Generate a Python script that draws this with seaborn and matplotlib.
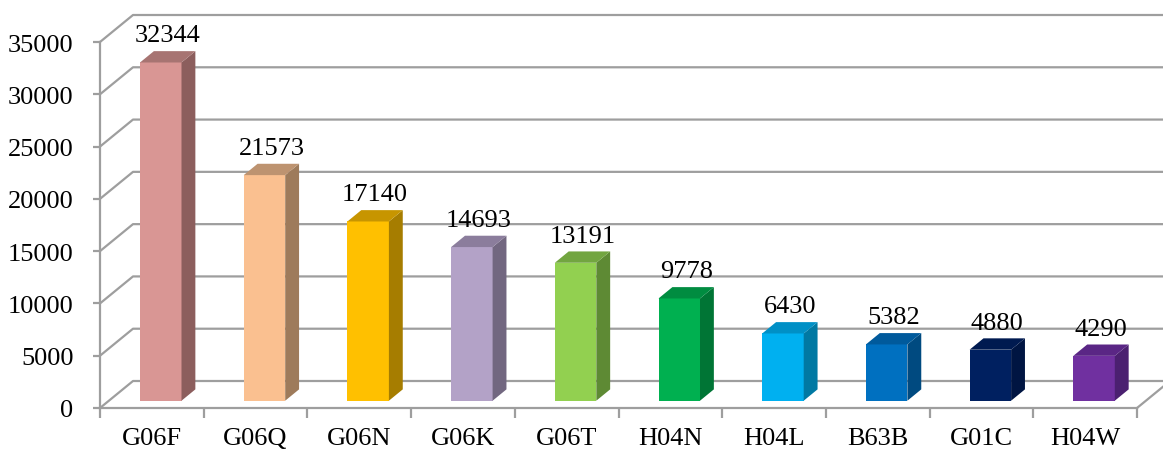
import numpy as np
import pandas as pd
import matplotlib
matplotlib.use("Agg")
import matplotlib.pyplot as plt
import seaborn as sns
from matplotlib.patches import Polygon

categories = ["G06F", "G06Q", "G06N", "G06K", "G06T", "H04N", "H04L", "B63B", "G01C", "H04W"]
values = [32344, 21573, 17140, 14693, 13191, 9778, 6430, 5382, 4880, 4290]
front_colors = ["#D99694", "#FAC090", "#FFC000", "#B3A2C7", "#92D050",
                "#00B050", "#00B0F0", "#0070C0", "#002060", "#7030A0"]
side_colors = ["#8C5E5D", "#9E7B5B", "#A67D00", "#726780", "#5E8A34",
               "#007535", "#0079A3", "#004A80", "#001542", "#4B2070"]
top_colors = ["#A77472", "#BD9370", "#C79500", "#8B7D9C", "#72A540",
              "#008C40", "#0090C6", "#005A9C", "#001A50", "#5A2685"]
yticks = [0, 5000, 10000, 15000, 20000, 25000, 30000, 35000]

sns.set_theme(style="white")
plt.rcParams["font.family"] = ["Liberation Serif", "DejaVu Serif"]

W, H = 1163, 452
fig = plt.figure(figsize=(W / 100, H / 100), dpi=100)
x0, x1, y0, y1 = 100, 1137, 409, 43
ax = fig.add_axes([x0 / W, 1 - y0 / H, (x1 - x0) / W, (y0 - y1) / H])

n = len(categories)
px_x = (x1 - x0) / n
px_y = (y0 - y1) / yticks[-1]
DX = 33 / px_x
DY = 27 / px_y
grid = "#9E9E9E"
FS = 19

df = pd.DataFrame({"cat": categories, "val": values})
sns.barplot(data=df, x="cat", y="val", hue="cat", palette=front_colors,
            width=0.4, legend=False, ax=ax, saturation=1, zorder=3)
ax.set_xlabel("")
ax.set_ylabel("")
ax.set_xlim(-0.5, n - 0.5)
ax.set_ylim(0, yticks[-1])

# back walls / gridlines
for v in yticks:
    ax.plot([-0.5, -0.5 + DX, n - 0.5 + DX], [v, v + DY, v + DY],
            color=grid, lw=1.6, clip_on=False, zorder=0, solid_capstyle="butt")
ax.plot([n - 0.5, n - 0.5 + DX], [0, DY], color=grid, lw=1.6, clip_on=False, zorder=0)

f_front = 0.27
depth = 0.42
ddx, ddy = depth * DX, depth * DY
patches = sorted(ax.patches, key=lambda p: p.get_x())
for i, p in enumerate(patches):
    p.set_x(p.get_x() + f_front * DX)
    p.set_y(p.get_y() + f_front * DY)
    p.set_edgecolor("none")
    l, b, w, h = p.get_x(), p.get_y(), p.get_width(), p.get_height()
    r, t = l + w, b + h
    side = Polygon([(r, b), (r + ddx, b + ddy), (r + ddx, t + ddy), (r, t)],
                   closed=True, facecolor=side_colors[i], edgecolor="none",
                   zorder=3, clip_on=False)
    top = Polygon([(l, t), (r, t), (r + ddx, t + ddy), (l + ddx, t + ddy)],
                  closed=True, facecolor=top_colors[i], edgecolor="none",
                  zorder=3, clip_on=False)
    ax.add_patch(side)
    ax.add_patch(top)
    ax.annotate(f"{values[i]}", xy=(l + w / 2 + ddx / 2, t + ddy),
                xytext=(0, 7), textcoords="offset points", ha="center",
                va="baseline", fontsize=FS, color="black", zorder=5,
                annotation_clip=False)

for s in ["top", "right"]:
    ax.spines[s].set_visible(False)
for s in ["left", "bottom"]:
    ax.spines[s].set_color(grid)
    ax.spines[s].set_linewidth(1.6)
    ax.spines[s].set_zorder(1)

ax.set_yticks(yticks)
ax.set_yticklabels([str(v) for v in yticks])
ax.set_xticks(range(n))
ax.set_xticklabels(categories)
ax.set_xticks(np.arange(-0.5, n, 1.0), minor=True)
ax.tick_params(axis="y", which="major", length=5, width=1.6, color=grid,
               pad=14, labelsize=FS, labelcolor="black", left=True)
ax.tick_params(axis="x", which="major", length=0, pad=14, labelsize=FS,
               labelcolor="black")
ax.tick_params(axis="x", which="minor", length=7, width=1.6, color=grid,
               bottom=True)
ax.grid(False)
ax.set_facecolor("none")
fig.patch.set_facecolor("white")

fig.savefig("out.png", dpi=100)
